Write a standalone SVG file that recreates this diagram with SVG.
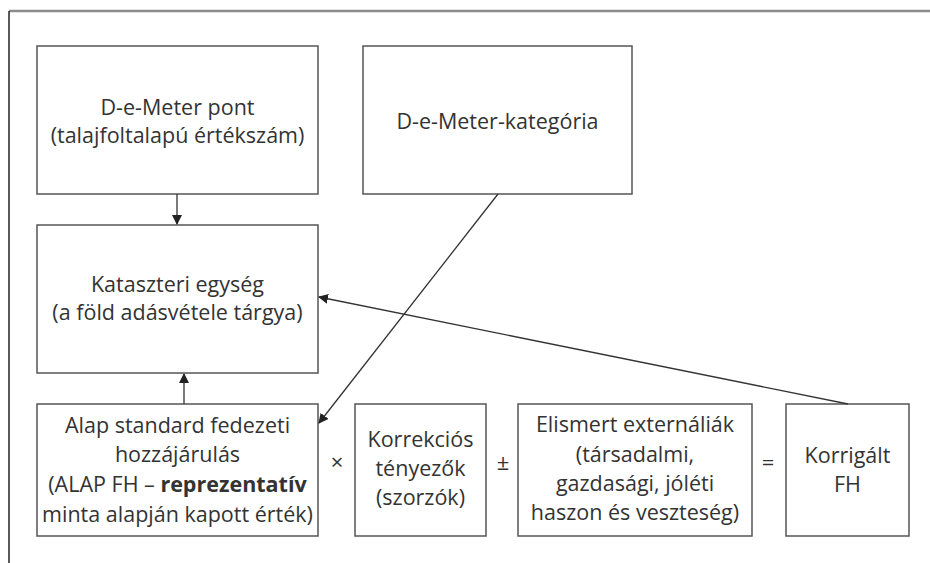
<svg xmlns="http://www.w3.org/2000/svg" width="930" height="563" viewBox="0 0 930 563">
<style>
.box{fill:#fff;stroke:#555;stroke-width:1.5}
.t{font-family:"Open Sans","Noto Sans",sans-serif;font-size:21.5px;fill:#333;text-anchor:middle}
.op{font-family:"Open Sans","Noto Sans",sans-serif;font-size:22px;fill:#333;text-anchor:middle}
.c{stroke:#333;stroke-width:1.3;fill:none}
</style>
<defs>
<marker id="ah" markerWidth="10" markerHeight="10" refX="9" refY="5" orient="auto" markerUnits="userSpaceOnUse">
<path d="M0,0 L10,5 L0,10 Z" fill="#222"/>
</marker>
</defs>
<g id="frame">
<line x1="9" y1="11" x2="930" y2="11" stroke="#8c8c8c" stroke-width="2.5"/>
<line x1="9" y1="11" x2="9" y2="563" stroke="#222" stroke-width="1.5"/>
</g>
<g id="n1"><rect class="box" x="37" y="46" width="281" height="148"/>
<text class="t" x="177.5" y="115">D-e-Meter pont</text>
<text class="t" x="177.5" y="143">(talajfoltalapú értékszám)</text></g>
<g id="n2"><rect class="box" x="363" y="46" width="269" height="148"/>
<text class="t" x="497.5" y="129">D-e-Meter-kategória</text></g>
<g id="n3"><rect class="box" x="37" y="225" width="281" height="148"/>
<text class="t" x="177.5" y="292">Kataszteri egység</text>
<text class="t" x="177.5" y="320">(a föld adásvétele tárgya)</text></g>
<g id="n4"><rect class="box" x="37" y="404" width="281" height="132"/>
<text class="t" x="177.5" y="433">Alap standard fedezeti</text>
<text class="t" x="177.5" y="462">hozzájárulás</text>
<text class="t" x="177.5" y="492">(ALAP FH – <tspan font-weight="bold">reprezentatív</tspan></text>
<text class="t" x="177.5" y="522">minta alapján kapott érték)</text></g>
<g id="n5"><rect class="box" x="355" y="404" width="131" height="132"/>
<text class="t" x="420.5" y="447">Korrekciós</text>
<text class="t" x="420.5" y="476">tényezők</text>
<text class="t" x="420.5" y="505">(szorzók)</text></g>
<g id="n6"><rect class="box" x="518" y="404" width="234" height="132"/>
<text class="t" x="635" y="432">Elismert externáliák</text>
<text class="t" x="635" y="462">(társadalmi,</text>
<text class="t" x="635" y="491">gazdasági, jóléti</text>
<text class="t" x="635" y="520">haszon és veszteség)</text></g>
<g id="n7"><rect class="box" x="786" y="404" width="123" height="132"/>
<text class="t" x="847.5" y="463">Korrigált</text>
<text class="t" x="847.5" y="492">FH</text></g>
<g id="ops">
<text class="op" x="337" y="470">×</text>
<text class="op" x="503" y="470">±</text>
<text class="op" x="768" y="470">=</text>
</g>
<g id="connectors">
<line class="c" x1="177" y1="194" x2="177" y2="224" marker-end="url(#ah)"/>
<line class="c" x1="184" y1="404" x2="184" y2="374" marker-end="url(#ah)"/>
<line class="c" x1="498" y1="194" x2="319" y2="423" marker-end="url(#ah)"/>
<line class="c" x1="848" y1="404" x2="319" y2="297" marker-end="url(#ah)"/>
</g>
</svg>
